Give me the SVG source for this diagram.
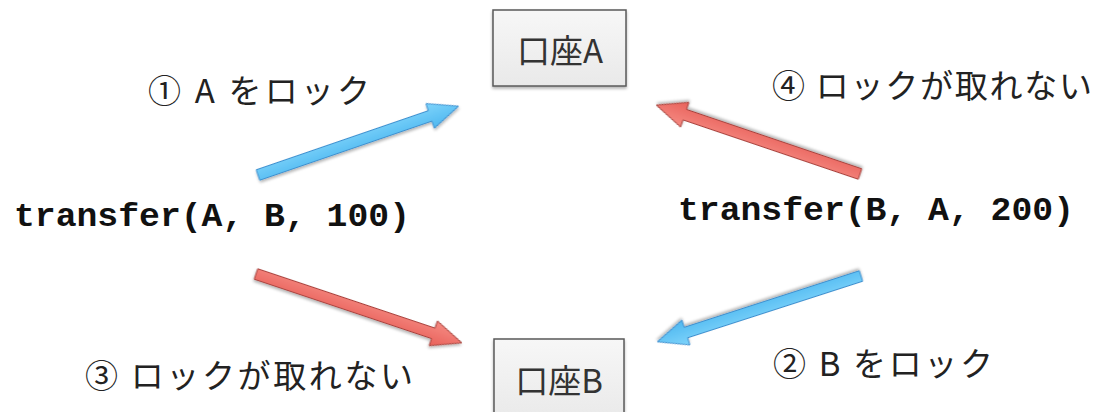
<svg xmlns="http://www.w3.org/2000/svg" width="1107" height="412" viewBox="0 0 1107 412">
<defs>
<linearGradient id="boxg" x1="0" y1="0" x2="0" y2="1"><stop offset="0" stop-color="#f7f7f7"/><stop offset="1" stop-color="#e9e9e9"/></linearGradient>
<linearGradient id="blueg" x1="0" y1="0" x2="0" y2="1"><stop offset="0" stop-color="#7fd4fb"/><stop offset="1" stop-color="#4fb8f0"/></linearGradient>
<linearGradient id="redg" x1="0" y1="0" x2="0" y2="1"><stop offset="0" stop-color="#f58a82"/><stop offset="1" stop-color="#e8615a"/></linearGradient>
<filter id="sh" x="-20%" y="-20%" width="140%" height="140%"><feGaussianBlur in="SourceAlpha" stdDeviation="1.5"/><feOffset dx="0" dy="2"/><feComponentTransfer><feFuncA type="linear" slope="0.3"/></feComponentTransfer><feMerge><feMergeNode/><feMergeNode in="SourceGraphic"/></feMerge></filter>
</defs>
<style>
.box{fill:url(#boxg);stroke:#5a5a5a;stroke-width:1.5;filter:url(#sh)}
.bt{font-family:"Noto Sans CJK JP","Liberation Sans",sans-serif;font-size:33px;fill:#333;text-anchor:middle}
.lbl{font-family:"Noto Sans CJK JP","Liberation Sans",sans-serif;font-size:33px;fill:#222}
.code{font-family:"Liberation Mono",monospace;font-weight:bold;font-size:34px;fill:#111}
.blue{fill:url(#blueg);stroke:#3d8fcf;stroke-width:1;filter:url(#sh)}
.red{fill:url(#redg);stroke:#a8433c;stroke-width:1;filter:url(#sh)}
</style>
<rect width="1107" height="412" fill="#fff"/>
<g id="accountA"><rect class="box" x="493" y="10" width="133" height="76"/><text class="bt" x="560" y="63">口座A</text></g>
<g id="accountB"><rect class="box" x="494" y="339" width="130" height="82"/><text class="bt" x="559" y="393">口座B</text></g>
<g id="transfer1"><text class="code" x="14" y="226" textLength="396" lengthAdjust="spacingAndGlyphs">transfer(A, B, 100)</text></g>
<g id="transfer2"><text class="code" x="678" y="220" textLength="396" lengthAdjust="spacingAndGlyphs">transfer(B, A, 200)</text></g>
<g id="labels">
<text class="lbl" x="148" y="103" textLength="222" lengthAdjust="spacing">① A をロック</text>
<text class="lbl" x="772" y="98" textLength="320" lengthAdjust="spacing">④ ロックが取れない</text>
<text class="lbl" x="85" y="388" textLength="328" lengthAdjust="spacing">③ ロックが取れない</text>
<text class="lbl" x="773" y="376" textLength="220" lengthAdjust="spacing">② B をロック</text>
</g>
<g id="connectors">
<polygon class="blue" transform="translate(258,175) rotate(-18.95)" points="0,-5.5 182,-5.5 182,-13 212,0 182,13 182,5.5 0,5.5"/>
<polygon class="red" transform="translate(256,274) rotate(18.5)" points="0,-5.5 187,-5.5 187,-13 217,0 187,13 187,5.5 0,5.5"/>
<polygon class="red" transform="translate(860,174) rotate(198.7)" points="0,-5.5 185,-5.5 185,-13 215,0 185,13 185,5.5 0,5.5"/>
<polygon class="blue" transform="translate(861,276) rotate(162.1)" points="0,-5.5 184,-5.5 184,-13 214,0 184,13 184,5.5 0,5.5"/>
</g>
</svg>
